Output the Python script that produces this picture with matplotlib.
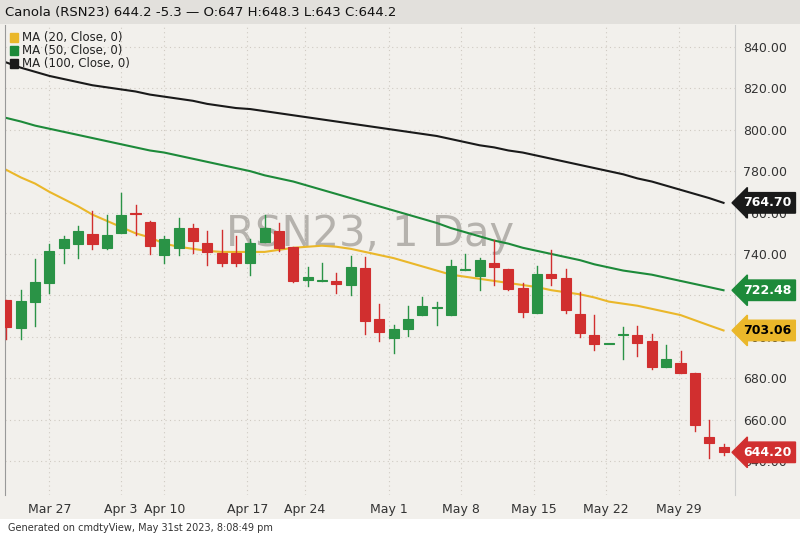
import matplotlib.pyplot as plt
from matplotlib.patches import Rectangle

# daily candles, Mar 23 .. May 31 2023
opens = [717.8, 704.4, 717, 726, 743, 744.8, 749.7, 743, 750, 759.5, 755.5, 739.5, 743, 752.6, 745.3, 740.5, 740.5,
         735.6, 745.8, 751, 743.4, 727.4, 727, 727, 725, 733.2, 708.6, 699.4, 703.9, 710.5, 714, 710.5, 732.3, 729.4,
         735.6, 732.8, 723.6, 711.5, 730.3, 728.4, 711, 700.9, 696.5, 700.9, 701, 698, 685.4, 687.3, 682.5, 651.6, 647]
highs = [718, 722.6, 737.6, 745, 748.7, 753.5, 761, 759, 769.5, 763.7, 756, 748.7, 757.4, 754.5, 751, 751.6, 748.7,
         747, 759, 755, 743.4, 733.7, 735.6, 731, 739, 738.5, 715.8, 705.7, 715, 719.2, 716.8, 737, 740, 738,
         746.8, 732.8, 726, 734, 742, 732.8, 721.6, 710.5, 696.6, 704.7, 705, 701.4, 696, 693, 682.5, 659.8, 648.3]
lows = [699, 699, 705, 721, 735.6, 738, 742.4, 742.4, 750, 749, 740, 735.6, 739.5, 740.5, 734.7, 734, 734,
        730, 745.8, 741.5, 726.5, 724.5, 726.8, 721, 720, 701.4, 698, 692.2, 700.4, 710.5, 705.7, 710.5, 732.3, 722.6,
        725, 722.5, 709.6, 711.5, 725, 711.5, 699.9, 693.6, 696.4, 689.3, 690.7, 684.4, 685.4, 682.3, 654.5, 641.4, 643]
closes = [704.7, 717.4, 726.6, 741.4, 747, 751, 744.8, 749, 758.8, 759.3, 743.9, 747.2, 752.6, 746.3, 741, 735.6, 735.6,
          745.3, 752.6, 743, 727, 729, 727, 725.5, 733.7, 707.6, 702.3, 703.9, 708.6, 714.9, 714, 734.2, 732.3, 737,
          733.7, 723, 712, 730.3, 728.4, 713, 701.8, 696.5, 696.6, 701.2, 697, 685.4, 689.3, 682.5, 657.4, 648.7, 644.2]

ma20 = [780.6, 777, 774, 770, 766.5, 763, 759, 756, 753, 750, 748, 745, 743.5, 742.5, 741.5, 741, 741, 741, 741, 742,
        743, 743.5, 744, 743.5, 742.5, 741, 739.5, 738, 736, 734, 732, 730, 729, 728, 727, 726, 725, 724, 722.5,
        721.5, 720.5, 719, 717, 716, 715, 713.5, 712, 710.5, 708, 705.5, 703.06]
ma50 = [805.7, 804, 802, 800.5, 799, 797.5, 796, 794.5, 793, 791.5, 790, 789, 787.5, 786, 784.5, 783, 781.5, 780,
        778, 776.5, 775, 773, 771, 769, 767, 765, 763, 761, 759, 757, 755, 752.5, 750.5, 748.5, 746.5, 745, 743,
        741.5, 740, 738.5, 737, 735, 733.5, 732, 731, 730, 728.5, 727, 725.5, 724, 722.48]
ma100 = [832.5, 830, 828, 826, 824.5, 823, 821.5, 820.5, 819.5, 818.5, 817, 816, 815, 814, 812.5, 811.5, 810.5, 810,
         809, 808, 807, 806, 805, 804, 803, 802, 801, 800, 799, 798, 797, 795.5, 794, 792.5, 791.5, 790, 789, 787.5,
         786, 784.5, 783, 781.5, 780, 778.5, 776.5, 775, 773, 771, 769, 767, 764.70]

tick_pos = [3, 8, 11, 16.8, 20.8, 26.7, 31.7, 36.8, 41.8, 46.9]
tick_labels = ["Mar 27", "Apr 3", "Apr 10", "Apr 17", "Apr 24", "May 1", "May 8", "May 15", "May 22", "May 29"]
yticks = [640, 660, 680, 700, 720, 740, 760, 780, 800, 820, 840]

BG = "#f2f0ec"
UP = "#2a9346"
DOWN = "#d12f2f"
Y20, G50, K100 = "#eab72a", "#1d8a3a", "#1a1a1a"

fig = plt.figure(figsize=(8, 5.38), dpi=100, facecolor=BG)
ax = fig.add_axes([0.00625, 0.08, 0.9125, 0.8735], facecolor=BG)

for i in range(len(opens)):
    o, h, l, c = opens[i], highs[i], lows[i], closes[i]
    col = UP if c >= o else DOWN
    ax.plot([i, i], [l, h], color=col, lw=1, zorder=3)
    lo, hi = min(o, c), max(o, c)
    ax.add_patch(Rectangle((i - 0.35, lo), 0.7, max(hi - lo, 0.4), facecolor=col,
                           edgecolor=col, lw=0.8, zorder=4))

x = list(range(len(ma20)))
ax.plot([-0.5] + x, [ma20[0] + 1.5] + ma20, color=Y20, lw=1.5, zorder=2)
ax.plot([-0.5] + x, [ma50[0] + 0.8] + ma50, color=G50, lw=1.5, zorder=2)
ax.plot([-0.5] + x, [ma100[0] + 1] + ma100, color=K100, lw=1.5, zorder=2)

ax.set_xlim(-0.1, 50.8)
ax.set_ylim(623.6, 850.6)
ax.set_xticks(tick_pos)
ax.set_xticklabels(tick_labels)
ax.set_yticks(yticks)
ax.set_yticklabels([f"{v:.2f}" for v in yticks])
ax.yaxis.tick_right()
ax.tick_params(length=0, labelsize=9, colors="#333333", pad=6)
ax.grid(True, color="#cfcac2", ls=(0, (1, 3)), lw=0.8)
for s in ["top", "bottom", "right"]:
    ax.spines[s].set_visible(False)
ax.spines["left"].set_color("#999999")
ax.spines["right"].set_visible(True)
ax.spines["right"].set_color("#cccccc")

ax.text(0.5, 0.555, "RSN23, 1 Day", transform=ax.transAxes, ha="center", va="center",
        fontsize=30, color="#b5b2ad", zorder=1)

# price tags on the right
for val, fc, tc in [(764.70, K100, "white"), (722.48, G50, "white"), (703.06, Y20, "black"), (644.20, DOWN, "white")]:
    ax.annotate(f"{val:.2f}", xy=(1.0, val), xycoords=("axes fraction", "data"), xytext=(6, 0),
                textcoords="offset points", ha="left", va="center", fontsize=9, color=tc, fontweight="bold",
                bbox=dict(boxstyle="larrow,pad=0.3", fc=fc, ec=fc), zorder=10, annotation_clip=False)

# legend
for k, (lab, col) in enumerate([("MA (20, Close, 0)", Y20), ("MA (50, Close, 0)", G50), ("MA (100, Close, 0)", K100)]):
    yy = 0.968 - k * 0.048 * 0.55
    fig.patches.append(Rectangle((0.012, 0.922 - k * 0.024), 0.011, 0.016, transform=fig.transFigure,
                                 facecolor=col, edgecolor=col))
    fig.text(0.027, 0.93 - k * 0.024, lab, fontsize=8.5, color="#222222", va="center")

# title bar
fig.patches.append(Rectangle((0, 0.955), 1, 0.045, transform=fig.transFigure, facecolor="#e2e0dc", edgecolor="none"))
fig.text(0.006, 0.977, "Canola (RSN23) 644.2 -5.3 \u2014 O:647 H:648.3 L:643 C:644.2", fontsize=9.5,
         color="#111111", va="center")

# footer
fig.patches.append(Rectangle((0, 0), 1, 0.035, transform=fig.transFigure, facecolor="#ffffff", edgecolor="none"))
fig.text(0.01, 0.018, "Generated on cmdtyView, May 31st 2023, 8:08:49 pm", fontsize=7, color="#333333", va="center")

plt.savefig("out.png", dpi=100, facecolor=BG)
